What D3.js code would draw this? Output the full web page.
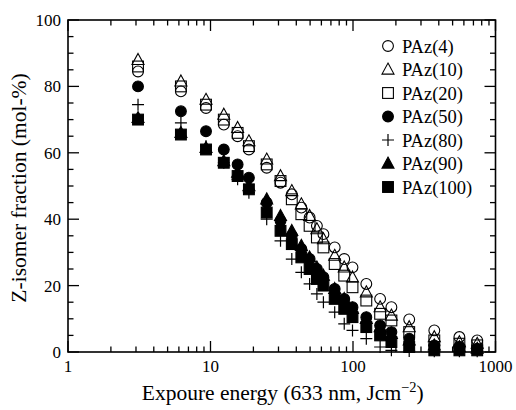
<!DOCTYPE html>
<html><head><meta charset="utf-8">
<script src="https://cdn.jsdelivr.net/npm/d3@7"></script>
<style>body{margin:0;background:#fff}svg{display:block}text{font-family:"Liberation Serif","Times New Roman",serif;fill:#000}</style>
</head><body><svg id="c" width="516" height="410"></svg>
<script>
const energy = [3.1,6.2,9.3,12.4,15.5,18.6,24.8,31,37.2,43.4,49.6,55.8,62,74.4,86.8,99.2,124,155,186,248,372,558,744];
const paz4   = [84.5,78.5,73.5,68.5,65,61,55.5,51,47.5,43.5,40.5,38,35.5,31.5,28,25.5,20.5,16,13.5,9.8,6.5,4.5,3.5];
const paz10  = [88,81.5,76,71.5,67.5,63.5,58,53,48.5,44.5,41,37,34,29,25.5,22.5,18,13.5,11,7.5,4.5,3,2.5];
const paz20  = [86,80,74.5,70,66,62,56.5,51.5,46,41.5,38,34.5,31.5,26.5,23,19.5,15.5,11.5,9.5,6,3.5,2.5,2];
const paz50  = [80,72.5,66.5,61,56.5,52.5,45,39.5,35,31,28,25,22.5,19,16,13.5,10.5,8,6,4,2,1.5,1];
const paz80  = [74.5,69,62,57,52,48,40,33.5,28,24,20.5,17.5,15,12,8.5,6.5,4,1.5,0.5,0.3,0.2,0.2,0.2];
const paz90  = [70.5,66,61.5,57.5,54,50,46,41,36.5,32,28.5,25.5,23,19,16,13,10,7.5,5.5,3.5,2,1.5,1];
const paz100 = [70,65.5,61,57,53,49,42,36.5,32.5,28.5,25,22,20,16,13,10.5,7.5,5,3,1.5,0.5,0.5,0.5];
const seriesNames = ["PAz(4)","PAz(10)","PAz(20)","PAz(50)","PAz(80)","PAz(90)","PAz(100)"];
const seriesValues = [paz4,paz10,paz20,paz50,paz80,paz90,paz100];
const seriesMarkers = ["ocircle","otri","osq","fcircle","plus","ftri","fsq"];
const xTicks = [1,10,100,1000];
const yTicks = [0,20,40,60,80,100];

const svg = d3.select("#c");
const L=68,R=495.5,T=20,B=352;
const x = d3.scaleLog().domain([1,1000]).range([L,R]);
const y = d3.scaleLinear().domain([0,100]).range([B,T]);

const minorX = [];
for (let d=1; d<1000; d*=10) for (let k=2;k<=9;k++) minorX.push(d*k);
const minorY = d3.range(0,101,5).filter(v=>v%20!==0);

const g = svg.append("g");
function tickLines(vals, len, axis){
  vals.forEach(v=>{
    if(axis==="x"){
      g.append("line").attr("x1",x(v)).attr("x2",x(v)).attr("y1",B).attr("y2",B-len).attr("stroke","#000").attr("stroke-width",1.3);
      g.append("line").attr("x1",x(v)).attr("x2",x(v)).attr("y1",T).attr("y2",T+len).attr("stroke","#000").attr("stroke-width",1.3);
    } else {
      g.append("line").attr("x1",L).attr("x2",L+len).attr("y1",y(v)).attr("y2",y(v)).attr("stroke","#000").attr("stroke-width",1.3);
      g.append("line").attr("x1",R).attr("x2",R-len).attr("y1",y(v)).attr("y2",y(v)).attr("stroke","#000").attr("stroke-width",1.3);
    }
  });
}
tickLines(xTicks, 11, "x");
tickLines(minorX, 5.5, "x");
tickLines(yTicks, 11, "y");
tickLines(minorY, 5.5, "y");
g.append("rect").attr("x",L).attr("y",T).attr("width",R-L).attr("height",B-T).attr("fill","none").attr("stroke","#000").attr("stroke-width",1.6);

xTicks.forEach(v=>{
  g.append("text").attr("x",x(v)).attr("y",B+20).attr("text-anchor","middle").attr("font-size",17).text(v);
});
yTicks.forEach(v=>{
  g.append("text").attr("x",L-7).attr("y",y(v)+6).attr("text-anchor","end").attr("font-size",17).text(v);
});

const xt = g.append("text").attr("x",(L+R)/2+1).attr("y",400).attr("text-anchor","middle").attr("font-size",21.5);
xt.append("tspan").text("Expoure energy (633 nm, Jcm");
xt.append("tspan").attr("font-size",14.5).attr("dy",-8).text("\u22122");
xt.append("tspan").attr("dy",8).text(")");
g.append("text").attr("transform",`translate(26,${(T+B)/2+2}) rotate(-90)`).attr("text-anchor","middle").attr("font-size",21.5).text("Z-isomer fraction (mol-%)");

function marker(sel, type, cx, cy){
  const s = 5.4;
  if(type==="ocircle"||type==="fcircle"){
    sel.append("circle").attr("cx",cx).attr("cy",cy).attr("r",s)
      .attr("fill",type==="fcircle"?"#000":"none").attr("stroke","#000").attr("stroke-width",1.1);
  } else if(type==="osq"||type==="fsq"){
    sel.append("rect").attr("x",cx-s).attr("y",cy-s).attr("width",2*s).attr("height",2*s)
      .attr("fill",type==="fsq"?"#000":"none").attr("stroke","#000").attr("stroke-width",1.1);
  } else if(type==="otri"||type==="ftri"){
    sel.append("path").attr("d",`M${cx},${cy-6.4}L${cx+6},${cy+4.6}L${cx-6},${cy+4.6}Z`)
      .attr("fill",type==="ftri"?"#000":"none").attr("stroke","#000").attr("stroke-width",1.1);
  } else if(type==="plus"){
    sel.append("path").attr("d",`M${cx-6},${cy}H${cx+6}M${cx},${cy-6}V${cy+6}`)
      .attr("stroke","#000").attr("stroke-width",1.2).attr("fill","none");
  }
}

const pts = svg.append("g");
seriesValues.forEach((vals,i)=>{
  const gg = pts.append("g");
  vals.forEach((v,j)=> marker(gg, seriesMarkers[i], x(energy[j]), y(v)));
});

const lg = svg.append("g");
seriesNames.forEach((n,i)=>{
  const yy = 46 + i*23.5;
  marker(lg, seriesMarkers[i], 388, yy);
  lg.append("text").attr("x",402).attr("y",yy+6.5).attr("font-size",18.5).text(n);
});
</script></body></html>
